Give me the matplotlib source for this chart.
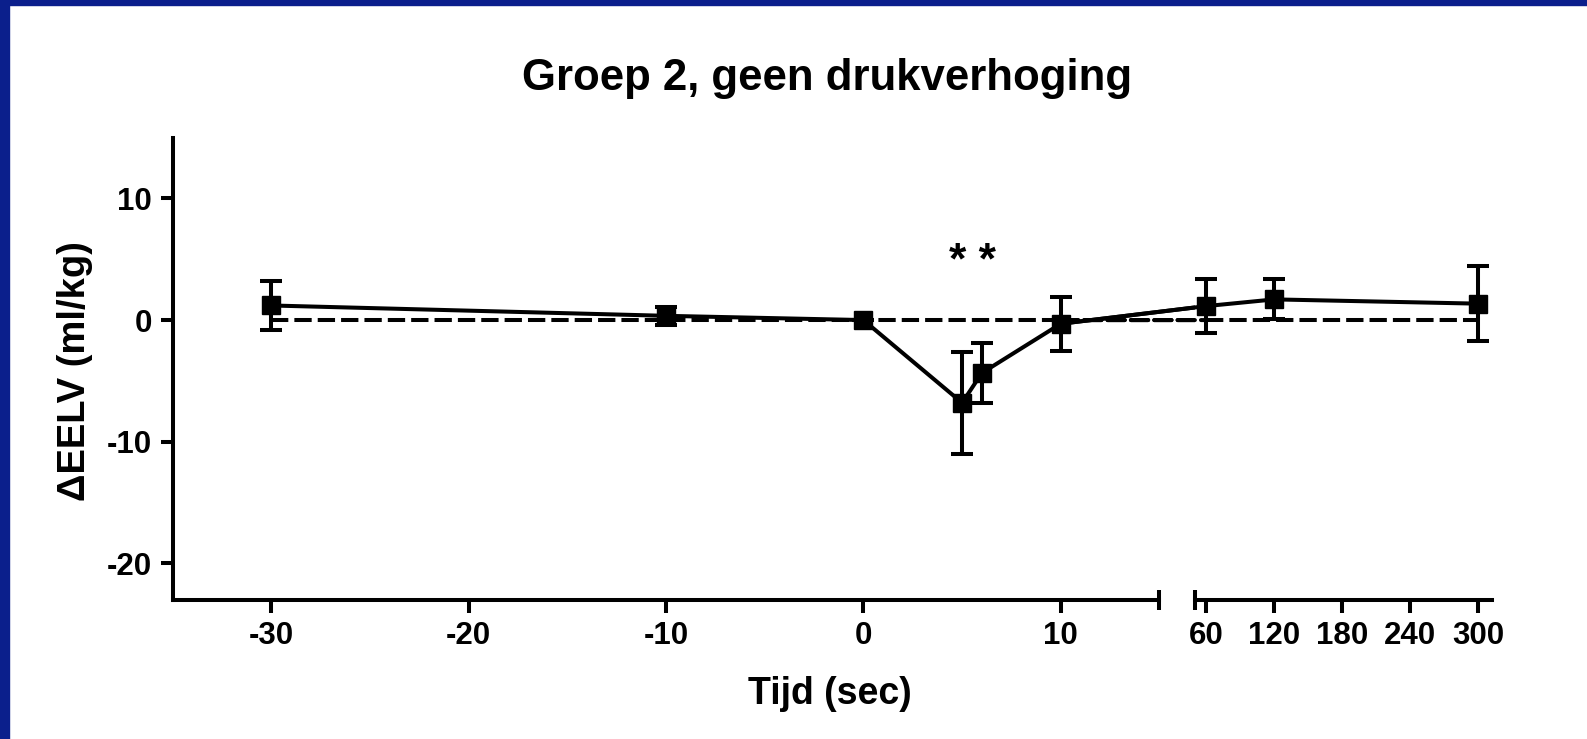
import matplotlib
matplotlib.use("Agg")
from matplotlib import pyplot as plt
from matplotlib.patches import ConnectionPatch, Rectangle

# lettertype: Arial-achtig, vet
plt.rcParams["font.family"] = ["Liberation Sans", "DejaVu Sans"]
plt.rcParams["font.weight"] = "bold"
plt.rcParams["axes.unicode_minus"] = False

# data
tijd = [-30, -10, 0, 5, 6, 10, 60, 120, 300]
delta_eelv = [1.2, 0.35, 0.0, -6.8, -4.35, -0.3, 1.15, 1.7, 1.35]
sem = [2.0, 0.75, 0.0, 4.2, 2.5, 2.2, 2.2, 1.65, 3.1]
nullijn = [0.0] * len(tijd)
sig_tijd = [5, 6]
sig_label = "* *"

xticks_links = [-30, -20, -10, 0, 10]
xticks_rechts = [60, 120, 180, 240, 300]
yticks = [-20, -10, 0, 10]

lw = 2.9
fig = plt.figure(figsize=(15.87, 7.39), dpi=100)
ax1 = fig.add_axes([0.1088, 0.1881, 0.6218, 0.6258])
ax2 = fig.add_axes([0.753, 0.1881, 0.187, 0.6258])

ax1.set_xlim(-35, 15)
ax2.set_xlim(50, 312)
for ax in (ax1, ax2):
    ax.set_ylim(-23, 15)
    ax.spines["top"].set_visible(False)
    ax.spines["right"].set_visible(False)
    for s in ax.spines.values():
        s.set_linewidth(lw)
    ax.tick_params(width=lw, length=9, labelsize=22.5, pad=6)
ax2.spines["left"].set_visible(False)
ax2.tick_params(left=False, labelleft=False)
ax1.set_yticks(yticks)
ax1.set_xticks(xticks_links)
ax2.set_xticks(xticks_rechts)

links = [i for i, t in enumerate(tijd) if t <= 15]
rechts = [i for i, t in enumerate(tijd) if t > 15]


def teken(y, err, ls, z, marker):
    for ax, idx in ((ax1, links), (ax2, rechts)):
        xs = [tijd[i] for i in idx]
        ys = [y[i] for i in idx]
        if marker:
            es = [err[i] for i in idx]
            ax.errorbar(xs, ys, yerr=es, color="k", lw=lw, elinewidth=lw,
                        capsize=8, capthick=lw, marker="s", ms=12.5, zorder=z)
        else:
            ax.plot(xs, ys, color="k", lw=lw, linestyle=ls, zorder=z)
    # verbinding over de asonderbreking, per deel geknipt
    for ax in (ax1, ax2):
        con = ConnectionPatch(xyA=(tijd[links[-1]], y[links[-1]]), coordsA=ax1.transData,
                              xyB=(tijd[rechts[0]], y[rechts[0]]), coordsB=ax2.transData,
                              color="k", lw=lw, linestyle=ls, zorder=z,
                              annotation_clip=False)
        ax.add_artist(con)


teken(nullijn, None, (0, (4.3, 1.5)), 1, False)
teken(delta_eelv, sem, "-", 3, True)

# onderbrekingstekens
ax1.plot([1], [0], marker="|", ms=14, mew=lw, color="k", transform=ax1.transAxes, clip_on=False)
ax2.plot([0], [0], marker="|", ms=14, mew=lw, color="k", transform=ax2.transAxes, clip_on=False)

ax1.text(sum(sig_tijd) / len(sig_tijd), 4.75, sig_label, ha="center", va="center",
         fontsize=32, fontweight="bold")

fig.text(0.521, 0.878, "Groep 2, geen drukverhoging", ha="center", va="baseline", fontsize=31.5)
fig.text(0.523, 0.047, "Tijd (sec)", ha="center", va="baseline", fontsize=27)
fig.text(0.047, 0.498, "ΔEELV (ml/kg)", ha="center", va="center", rotation=90, fontsize=27.5)

# blauwe rand van de dia
fig.patches.append(Rectangle((0, 0), 9 / 1587, 1, transform=fig.transFigure, color="#0b1f8c"))
fig.patches.append(Rectangle((0, 1 - 5 / 739), 1, 5 / 739, transform=fig.transFigure, color="#0b1f8c"))

fig.savefig("out.png", dpi=100)
